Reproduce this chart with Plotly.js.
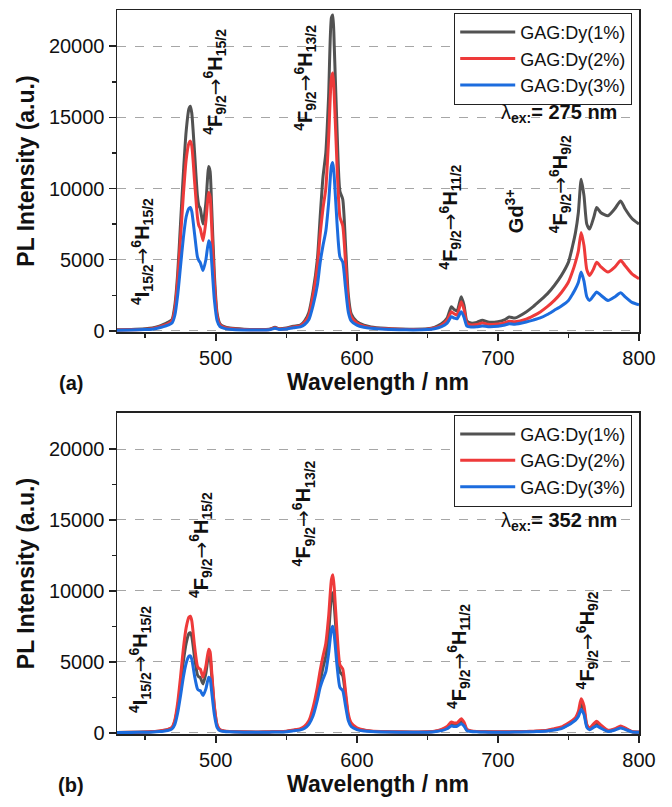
<!DOCTYPE html>
<html>
<head>
<meta charset="utf-8">
<script src="https://cdn.plot.ly/plotly-3.0.1.min.js"></script>
<style>html,body{margin:0;padding:0;background:#fff;}#chart{width:672px;height:807px;}</style>
</head>
<body>
<div id="chart"></div>
<script>
// Wavelength grid (nm)
const wavelength = [430,440,450,455,460,463,466,469,471,473,475,477,479,481,482,483,485,487,488,489,491,493,495,496,497,499,501,503,506,510,520,530,538,542,545,550,555,560,563,566,569,572,574,576,578,580,582,583,584,586,588,590,592,594,596,600,605,610,620,630,640,650,655,660,664,667,669,671,674,676,678,681,685,689,693,700,705,708,712,720,725,730,735,740,745,750,753,755,757,759,761,763,765,768,770,773,778,783,787,790,795,800];

// Panel (a): lambda_ex = 275 nm
const a_dy1 = [80,100,150,200,330,450,600,800,1800,4000,7500,11000,14000,15600,15780,15300,12500,9500,8800,8600,7500,9000,11540,11200,9000,4000,1200,500,300,200,120,100,120,250,150,200,320,400,700,1300,2800,5000,8000,10800,12500,16500,22000,22190,20000,14000,9800,9250,6000,2500,1200,650,400,280,180,130,120,150,250,500,900,1700,1500,1400,2400,1800,700,550,600,750,620,650,800,980,900,1330,1700,2140,2600,3190,3900,4830,6000,6920,8300,10650,9500,7500,7150,8000,8670,8300,8090,8600,9130,8600,7900,7500];
const a_dy2 = [60,80,120,160,280,380,500,700,1500,3500,6500,9500,12000,13200,13330,13000,10500,8000,7400,7200,6340,7700,9720,9400,7600,3400,1000,420,250,170,100,80,100,220,130,170,280,350,600,1100,2500,4500,6800,8600,10000,13500,17800,18110,16500,11500,8000,7390,4800,2000,1000,550,330,230,150,110,100,120,200,400,750,1340,1200,1100,2040,1500,550,420,450,560,470,480,580,680,640,820,1050,1330,1700,2140,2700,3430,4200,4830,5600,6920,6000,4300,3890,4400,4830,4500,4130,4500,4940,4600,4000,3660];
const a_dy3 = [50,60,90,120,220,300,400,550,1100,2500,4500,6500,8000,8600,8670,8400,6800,5200,4940,4800,4240,5000,6340,6100,5000,2200,700,300,180,120,70,60,80,180,100,130,220,280,450,800,1800,3200,4800,5990,7000,9000,11600,11820,10800,7500,5200,4830,3000,1300,700,400,250,180,110,80,70,90,150,300,550,990,900,850,1340,950,330,270,290,350,300,330,420,500,470,630,760,910,1150,1450,1750,2140,2600,2960,3400,4130,3500,2400,2140,2500,2730,2500,2140,2400,2680,2400,2000,1840];

// Panel (b): lambda_ex = 352 nm
const b_dy1 = [30,40,60,80,120,160,220,350,800,1800,3300,5000,6300,7000,7060,6800,5300,4100,3950,3900,3450,4200,5500,5300,4200,1800,500,200,120,90,60,50,60,80,80,100,170,250,400,700,1500,2700,3600,4600,5400,7000,9600,9880,9000,6200,4300,4030,2600,1100,600,300,180,120,80,60,50,60,100,200,380,620,560,560,820,600,200,120,90,80,70,60,60,60,70,80,100,120,150,250,350,600,800,950,1300,2050,1600,500,300,550,650,450,150,250,420,300,80,50];
const b_dy2 = [30,40,60,90,130,180,250,400,900,2100,3900,5900,7400,8150,8220,7900,6100,4700,4550,4500,3920,4700,5900,5700,4500,1900,550,220,130,100,70,60,70,90,90,120,200,300,480,850,1800,3200,4400,5400,6300,8200,10800,11140,10200,7000,4800,4500,2900,1300,700,350,200,140,90,70,60,70,120,250,450,770,700,700,1000,750,250,140,100,90,80,70,70,70,80,100,120,150,180,300,420,700,900,1070,1500,2400,1900,600,350,650,810,550,180,300,490,350,100,60];
const b_dy3 = [20,30,45,60,90,120,170,280,600,1400,2600,3900,4900,5400,5430,5200,4000,3100,3000,2980,2630,3100,3920,3800,3000,1300,380,150,90,70,50,40,50,60,60,80,140,210,330,600,1200,2300,3200,3800,4300,5600,7300,7520,6900,4700,3200,2980,1900,850,450,230,130,90,60,50,40,50,80,160,290,490,450,460,650,480,160,90,70,60,50,50,50,50,55,70,80,100,130,200,300,550,750,900,1150,1650,1300,400,220,400,490,330,100,200,350,250,70,40];

const seriesNames = ["GAG:Dy(1%)","GAG:Dy(2%)","GAG:Dy(3%)"];
const seriesColors = ["rgb(82,82,82)","rgb(238,58,58)","rgb(28,108,222)"];
const xTickVals = [500,600,700,800];
const yTickVals = [0,5000,10000,15000,20000];

const FONT = "Liberation Sans, Arial, sans-serif";

function mk(y, i, xa, ya, lg) {
  return {
    x: wavelength, y: y, type: "scatter", mode: "lines",
    name: seriesNames[i], xaxis: xa, yaxis: ya, legend: lg,
    line: {color: seriesColors[i], width: 3, shape: "spline", smoothing: 0.6}
  };
}

const traces = [
  mk(a_dy1,0,"x","y","legend"), mk(a_dy2,1,"x","y","legend"), mk(a_dy3,2,"x","y","legend"),
  mk(b_dy1,0,"x2","y2","legend2"), mk(b_dy2,1,"x2","y2","legend2"), mk(b_dy3,2,"x2","y2","legend2")
];

function xax(anchor) {
  return {
    anchor: anchor, range: [430, 800], tickvals: xTickVals,
    ticks: "outside", ticklen: 7, tickwidth: 1.5, tickcolor: "#222",
    minor: {tickvals: [450,550,650,750], ticks: "outside", ticklen: 4, tickwidth: 1.5, tickcolor: "#222"},
    showline: true, linecolor: "#222", linewidth: 1.5, mirror: true,
    showgrid: false, zeroline: false,
    tickfont: {family: FONT, size: 20, color: "#111"},
    title: {text: "<b>Wavelength / nm</b>", font: {family: FONT, size: 23, color: "#111"}, standoff: 6}
  };
}
function yax(anchor, dom) {
  return {
    anchor: anchor, domain: dom, range: [-80, 22540], tickvals: yTickVals, tickformat: "d",
    ticks: "outside", ticklen: 7, tickwidth: 1.5, tickcolor: "#222",
    minor: {tickvals: [2500,7500,12500,17500], ticks: "outside", ticklen: 4, tickwidth: 1.5, tickcolor: "#222", showgrid: false},
    showline: true, linecolor: "#222", linewidth: 1.5, mirror: true,
    showgrid: true, gridcolor: "#a6a6a6", gridwidth: 1, griddash: "dash",
    zeroline: false,
    tickfont: {family: FONT, size: 20, color: "#111"},
    title: {text: "<b>PL Intensity (a.u.)</b>", font: {family: FONT, size: 23, color: "#111"}, standoff: 8}
  };
}

function trans(text, x, y, xr, yr) {
  return {text: text, x: x, y: y, xref: xr, yref: yr, textangle: -90, showarrow: false,
    font: {family: FONT, size: 20, color: "#111"}, xanchor: "center", yanchor: "middle"};
}
const ARROW = "<span style=\"font-family:DejaVu Sans\">→</span>";
const tI = "<b><sup>4</sup>I<sub>15/2</sub></b>" + ARROW + "<b><sup>6</sup>H<sub>15/2</sub></b>";
const tF15 = "<b><sup>4</sup>F<sub>9/2</sub></b>" + ARROW + "<b><sup>6</sup>H<sub>15/2</sub></b>";
const tF13 = "<b><sup>4</sup>F<sub>9/2</sub></b>" + ARROW + "<b><sup>6</sup>H<sub>13/2</sub></b>";
const tF11 = "<b><sup>4</sup>F<sub>9/2</sub></b>" + ARROW + "<b><sup>6</sup>H<sub>11/2</sub></b>";
const tF9 = "<b><sup>4</sup>F<sub>9/2</sub></b>" + ARROW + "<b><sup>6</sup>H<sub>9/2</sub></b>";

const annotations = [
  trans(tI, 447.6, 5600, "x", "y"),
  trans(tF15, 499.5, 17500, "x", "y"),
  trans(tF13, 563.5, 17800, "x", "y"),
  trans(tF11, 665.8, 8000, "x", "y"),
  trans("<b>Gd<sup>3+</sup></b>", 711.3, 8400, "x", "y"),
  trans(tF9, 744, 10300, "x", "y"),
  {text: "λ<sub><b>ex:</b></sub><b>= 275 nm</b>", x: 743.3, y: 15300, xref: "x", yref: "y", showarrow: false,
   font: {family: FONT, size: 20, color: "#111"}, xanchor: "center", yanchor: "middle"},
  trans(tI, 446.2, 5200, "x2", "y2"),
  trans(tF15, 489.6, 13240, "x2", "y2"),
  trans(tF13, 562, 15480, "x2", "y2"),
  trans(tF11, 672.2, 5400, "x2", "y2"),
  trans(tF9, 763.2, 6520, "x2", "y2"),
  {text: "λ<sub><b>ex:</b></sub><b>= 352 nm</b>", x: 743.3, y: 14900, xref: "x2", yref: "y2", showarrow: false,
   font: {family: FONT, size: 20, color: "#111"}, xanchor: "center", yanchor: "middle"},
  {text: "<b>(a)</b>", x: -0.088, y: 0.4848, xref: "paper", yref: "paper", showarrow: false,
   font: {family: FONT, size: 20, color: "#111"}, xanchor: "center", yanchor: "middle"},
  {text: "<b>(b)</b>", x: -0.088, y: -0.0704, xref: "paper", yref: "paper", showarrow: false,
   font: {family: FONT, size: 20, color: "#111"}, xanchor: "center", yanchor: "middle"}
];

function leg(ytop) {
  return {x: 0.987, y: ytop, xanchor: "right", yanchor: "top", bgcolor: "#fff",
    bordercolor: "#222", borderwidth: 1, font: {family: FONT, size: 18, color: "#111"},
    tracegroupgap: 0, itemwidth: 55};
}

const layout = {
  width: 672, height: 807,
  margin: {l: 117, r: 33, t: 10, b: 73},
  paper_bgcolor: "#fff", plot_bgcolor: "#fff",
  showlegend: true,
  xaxis: xax("y"), yaxis: yax("x", [0.5552, 1]),
  xaxis2: xax("y2"), yaxis2: yax("x2", [0, 0.4434]),
  legend: leg(0.996), legend2: leg(0.441),
  annotations: annotations
};

Plotly.newPlot("chart", traces, layout, {displayModeBar: false, staticPlot: true});
</script>
</body>
</html>
